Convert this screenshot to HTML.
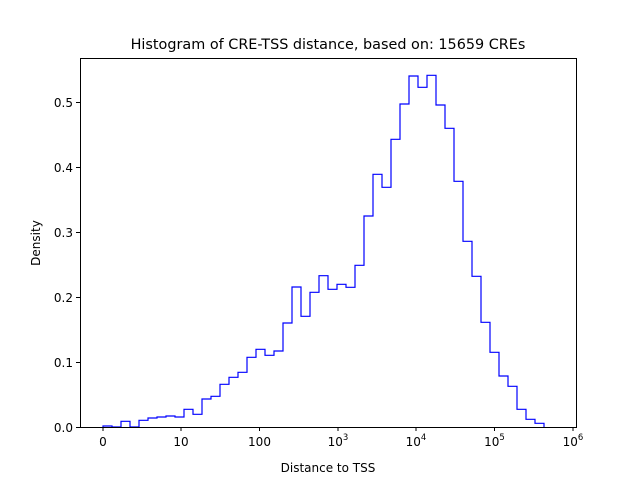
<!DOCTYPE html>
<html><head><meta charset="utf-8"><style>body{margin:0;background:#fff}</style></head><body>
<svg width="640" height="480" xmlns="http://www.w3.org/2000/svg" font-family="DejaVu Sans, Liberation Sans, sans-serif">
<rect width="640" height="480" fill="#fff"/>
<path d="M103,427 V426 H112 V427 H121 V421.3 H130 V427 H139 V420.3 H148 V418 H157 V417 H166 V416 H175 V417 H184 V409.3 H193 V414.3 H202 V399 H211 V396.3 H220 V384.3 H229 V377.3 H238 V372.3 H247 V357.3 H256 V349.3 H265 V355.3 H274 V351 H283 V323 H292 V287 H301 V316.3 H310 V292.3 H319 V275.7 H328 V289.3 H337 V284.3 H346 V287.3 H355 V265.3 H364 V216 H373 V174.3 H382 V187.3 H391 V139.3 H400 V104 H409 V76 H418 V87.3 H427 V75.3 H436 V105 H445 V128.3 H454 V181.3 H463 V241.3 H472 V276.3 H481 V322.3 H490 V352.3 H499 V376 H508 V386.3 H517 V409.3 H526 V419.3 H535 V423.3 H544 V427" fill="none" stroke="#0000ff" stroke-width="1.2"/>
<rect x="80.5" y="58.5" width="496" height="369" fill="none" stroke="#000" stroke-width="1"/>
<g stroke="#000" stroke-width="1">
<line x1="103" y1="427" x2="103" y2="431"/><line x1="181" y1="427" x2="181" y2="431"/><line x1="259.5" y1="427" x2="259.5" y2="431"/><line x1="338" y1="427" x2="338" y2="431"/><line x1="416" y1="427" x2="416" y2="431"/><line x1="494.5" y1="427" x2="494.5" y2="431"/><line x1="573" y1="427" x2="573" y2="431"/>
<line x1="76" y1="427.5" x2="80" y2="427.5"/><line x1="76" y1="362.5" x2="80" y2="362.5"/><line x1="76" y1="297.5" x2="80" y2="297.5"/><line x1="76" y1="232.5" x2="80" y2="232.5"/><line x1="76" y1="167.5" x2="80" y2="167.5"/><line x1="76" y1="102.5" x2="80" y2="102.5"/>
</g>
<g font-size="12" fill="#000" text-anchor="end">
<text x="73" y="432">0.0</text><text x="73" y="367">0.1</text><text x="73" y="302">0.2</text><text x="73" y="237">0.3</text><text x="73" y="172">0.4</text><text x="73" y="107">0.5</text>
</g>
<g font-size="12" fill="#000" text-anchor="middle">
<text x="103" y="446">0</text><text x="181" y="446">10</text><text x="259.5" y="446">100</text>
<text x="338" y="446">10<tspan font-size="8.5" dy="-6">3</tspan></text>
<text x="416" y="446">10<tspan font-size="8.5" dy="-6">4</tspan></text>
<text x="494.5" y="446">10<tspan font-size="8.5" dy="-6">5</tspan></text>
<text x="573" y="446">10<tspan font-size="8.5" dy="-6">6</tspan></text>
<text x="328" y="472">Distance to TSS</text>
<text x="328" y="49" font-size="14.4">Histogram of CRE-TSS distance, based on: 15659 CREs</text>
<text transform="translate(40,243) rotate(-90)">Density</text>
</g>
</svg>
</body></html>
